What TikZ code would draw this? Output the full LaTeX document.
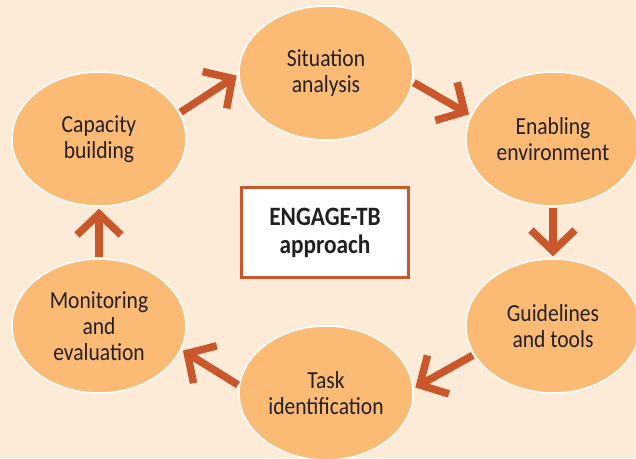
\documentclass[tikz,border=0pt]{standalone}
\usepackage{fontspec}
\setmainfont{Carlito}[FakeStretch=0.88]
\usetikzlibrary{shapes.geometric,arrows.meta}
\definecolor{bg}{RGB}{253,235,216}
\definecolor{ellfill}{RGB}{251,187,116}
\definecolor{arrc}{RGB}{202,86,44}
\definecolor{txt}{RGB}{35,31,32}
\begin{document}
\begin{tikzpicture}[x=1pt,y=-1pt,
  stage/.style={ellipse, fill=ellfill, draw=white, line width=1.5pt,
    minimum width=174pt, minimum height=134pt, inner sep=0pt,
    align=center, text=txt, font=\fontsize{24.5}{26}\selectfont},
  corebox/.style={draw=arrc, line width=3pt, fill=white,
    minimum width=167pt, minimum height=90pt, inner sep=0pt,
    align=center, text=txt, font=\bfseries\fontsize{26.5}{28}\selectfont},
  conn/.style={draw=arrc, line width=7.5pt,
    -{Straight Barb[length=21pt,width=44pt,sharp]},
    shorten <=1pt, shorten >=2pt}]
\useasboundingbox (0,0) rectangle (636,458);
\fill[bg] (0,0) rectangle (636,458);
\node[stage] (sit)  at (326,73)  {Situation\\analysis};
\node[stage] (cap)  at (99,139)  {Capacity\\building};
\node[stage] (en)   at (553,139) {Enabling\\environment};
\node[stage] (gui)  at (553,326) {Guidelines\\and tools};
\node[stage] (task) at (326,393) {Task\\identification};
\node[stage] (mon)  at (99,326)  {Monitoring\\and\\evaluation};
\node[corebox] (core) at (325,232.5) {ENGAGE-TB\\approach};
\draw[conn] (cap.18) -- (sit.181);
\draw[conn] (sit.-6) -- (en.164);
\draw[conn] (en.-90) -- (gui.90);
\draw[conn] (gui.200) -- (task.3);
\draw[conn] (task.175) -- (mon.-16);
\draw[conn] (mon.90) -- (cap.-90);
\end{tikzpicture}
\end{document}
